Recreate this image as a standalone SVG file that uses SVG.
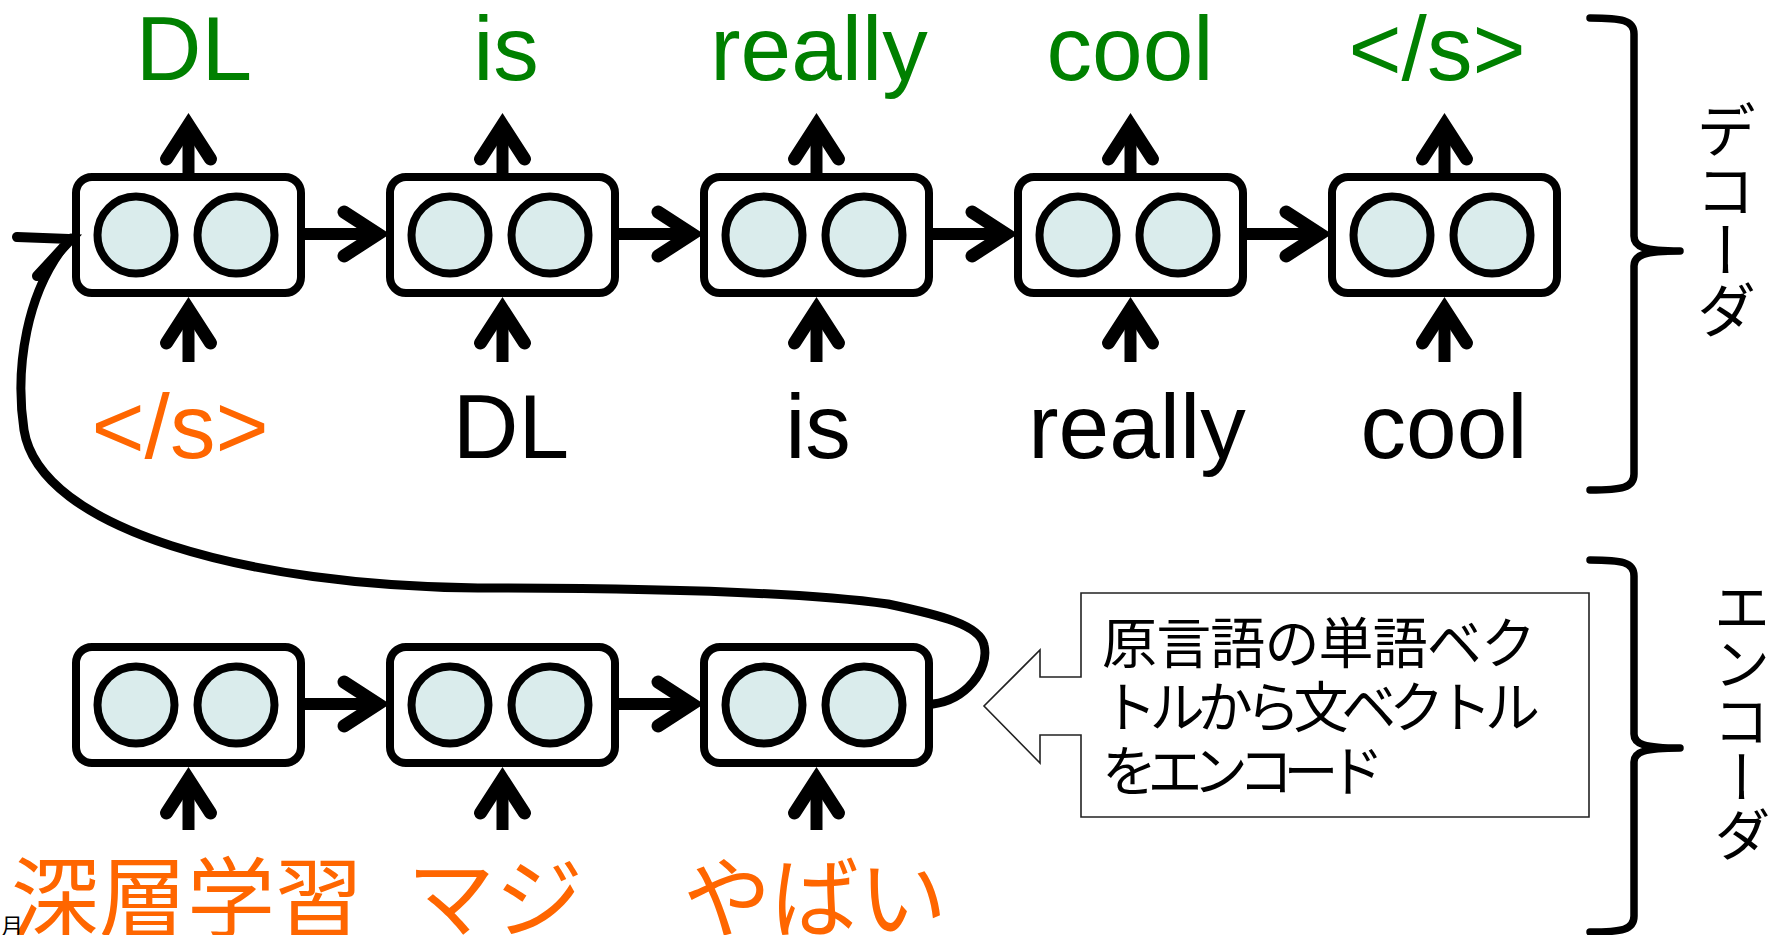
<svg xmlns="http://www.w3.org/2000/svg" xmlns:xlink="http://www.w3.org/1999/xlink" width="1786" height="935" viewBox="0 0 1786 935">
  <style>
    .box { fill: #ffffff; stroke: #000; stroke-width: 8; }
    .unit { fill: #daecec; stroke: #000; stroke-width: 8; }
    .shaft { fill: none; stroke: #000; stroke-width: 12; stroke-linecap: butt; }
    .head { fill: none; stroke: #000; stroke-width: 13; stroke-linecap: round; stroke-linejoin: miter; }
    .loop { fill: none; stroke: #000; stroke-width: 9; stroke-linecap: round; }
    .brace { fill: none; stroke: #000; stroke-width: 7.5; stroke-linecap: round; stroke-linejoin: round; }
    .en { font-family: "Liberation Sans", Arial, sans-serif; font-size: 91px; text-anchor: middle; }
    .ja { font-family: "Noto Sans CJK JP", sans-serif; }
    .out { fill: #008000; }
    .eos { fill: #ff6600; }
    .src { fill: #ff6600; font-size: 88px; text-anchor: middle; }
    .note { fill: #000; font-size: 55px; }
    .side { fill: #000; writing-mode: vertical-rl; }
  </style>
  <defs>
    <!-- open arrowhead; origin is the stroke vertex, the visible tip sits 12px ahead -->
    <marker id="arrowhead" markerUnits="userSpaceOnUse" orient="auto" refX="0" refY="0" markerWidth="80" markerHeight="80" viewBox="-60 -40 80 80" overflow="visible">
      <path class="head" d="M -34,-22 L 0,0 L -34,22"/>
    </marker>
    <!-- one recurrent cell: rounded frame with two hidden units -->
    <g id="cell">
      <rect class="box" x="0" y="0" width="225" height="116" rx="16"/>
      <circle class="unit" cx="60" cy="58" r="38.5"/>
      <circle class="unit" cx="160" cy="58" r="38.5"/>
    </g>
  </defs>

  <!-- decoder cells -->
  <g id="dec1"><use xlink:href="#cell" x="76" y="177"/></g>
  <g id="dec2"><use xlink:href="#cell" x="390" y="177"/></g>
  <g id="dec3"><use xlink:href="#cell" x="704" y="177"/></g>
  <g id="dec4"><use xlink:href="#cell" x="1018" y="177"/></g>
  <g id="dec5"><use xlink:href="#cell" x="1332" y="177"/></g>

  <!-- encoder cells -->
  <g id="enc1"><use xlink:href="#cell" x="76" y="647"/></g>
  <g id="enc2"><use xlink:href="#cell" x="390" y="647"/></g>
  <g id="enc3"><use xlink:href="#cell" x="704" y="647"/></g>

  <g id="connectors">
    <!-- decoder outputs -->
    <path class="shaft" marker-end="url(#arrowhead)" d="M188.5,173 V125"/>
    <path class="shaft" marker-end="url(#arrowhead)" d="M502.5,173 V125"/>
    <path class="shaft" marker-end="url(#arrowhead)" d="M816.5,173 V125"/>
    <path class="shaft" marker-end="url(#arrowhead)" d="M1130.5,173 V125"/>
    <path class="shaft" marker-end="url(#arrowhead)" d="M1444.5,173 V125"/>
    <!-- decoder inputs -->
    <path class="shaft" marker-end="url(#arrowhead)" d="M188.5,362 V309"/>
    <path class="shaft" marker-end="url(#arrowhead)" d="M502.5,362 V309"/>
    <path class="shaft" marker-end="url(#arrowhead)" d="M816.5,362 V309"/>
    <path class="shaft" marker-end="url(#arrowhead)" d="M1130.5,362 V309"/>
    <path class="shaft" marker-end="url(#arrowhead)" d="M1444.5,362 V309"/>
    <!-- decoder recurrence -->
    <path class="shaft" marker-end="url(#arrowhead)" d="M305,234 H378"/>
    <path class="shaft" marker-end="url(#arrowhead)" d="M619,234 H692"/>
    <path class="shaft" marker-end="url(#arrowhead)" d="M933,234 H1006"/>
    <path class="shaft" marker-end="url(#arrowhead)" d="M1247,234 H1320"/>
    <!-- encoder inputs -->
    <path class="shaft" marker-end="url(#arrowhead)" d="M188.5,830 V779"/>
    <path class="shaft" marker-end="url(#arrowhead)" d="M502.5,830 V779"/>
    <path class="shaft" marker-end="url(#arrowhead)" d="M816.5,830 V779"/>
    <!-- encoder recurrence -->
    <path class="shaft" marker-end="url(#arrowhead)" d="M305,704 H378"/>
    <path class="shaft" marker-end="url(#arrowhead)" d="M619,704 H692"/>
    <!-- sentence vector handed from the last encoder cell to the first decoder cell -->
    <path class="loop" d="M933,704 C965,700 990,670 984,645 C980,625 940,615 888,604 C800,592 650,588 478,588 C250,586 40,530 24,430 C15,370 25,290 71,238"/>
    <polyline class="head" points="17,237 71,239 37,276" style="stroke-width:10"/>
  </g>

  <g id="labels">
    <!-- decoder outputs -->
    <text class="en out" x="194" y="80">DL</text>
    <text class="en out" x="506" y="80">is</text>
    <text class="en out" x="819" y="80">really</text>
    <text class="en out" x="1130" y="80">cool</text>
    <text class="en out" x="1437" y="80">&lt;/s&gt;</text>
    <!-- decoder inputs -->
    <text class="en eos" x="180" y="458">&lt;/s&gt;</text>
    <text class="en" x="511" y="458">DL</text>
    <text class="en" x="818" y="458">is</text>
    <text class="en" x="1137" y="458">really</text>
    <text class="en" x="1444" y="458">cool</text>
    <!-- source words -->
    <text class="ja src" x="187" y="930">深層学習</text>
    <text class="ja src" x="495" y="930">マジ</text>
    <text class="ja src" x="815" y="930">やばい</text>
    <text class="ja" x="1" y="934" font-size="22" fill="#000">月</text>
  </g>

  <!-- callout -->
  <g id="callout">
    <path d="M1081,593 H1589 V817 H1081 V735 H1040 V763 L984,706 L1040,650 V677 H1081 Z" fill="#fff" stroke="#222" stroke-width="1.6" stroke-linejoin="miter"/>
    <text class="ja note" x="1102" y="663" textLength="434">原言語の単語ベク</text>
    <text class="ja note" x="1102" y="727" textLength="438">トルから文ベクトル</text>
    <text class="ja note" x="1102" y="791" textLength="282">をエンコード</text>
  </g>

  <!-- braces with side captions -->
  <g id="decoder-brace">
    <path class="brace" d="M1590,18 C1622,18 1634,20 1634,34 L1634,236 C1634,247 1644,251 1680,251 C1644,251 1634,255 1634,266 L1634,474 C1634,488 1622,490 1590,490"/>
    <text class="ja side" x="1726" y="100" font-size="60">デコーダ</text>
  </g>
  <g id="encoder-brace">
    <path class="brace" d="M1590,560 C1622,560 1634,562 1634,576 L1634,734 C1634,744 1644,748 1680,748 C1644,748 1634,752 1634,762 L1634,916 C1634,930 1622,932 1590,932"/>
    <text class="ja side" x="1742" y="578" font-size="57">エンコーダ</text>
  </g>
</svg>
